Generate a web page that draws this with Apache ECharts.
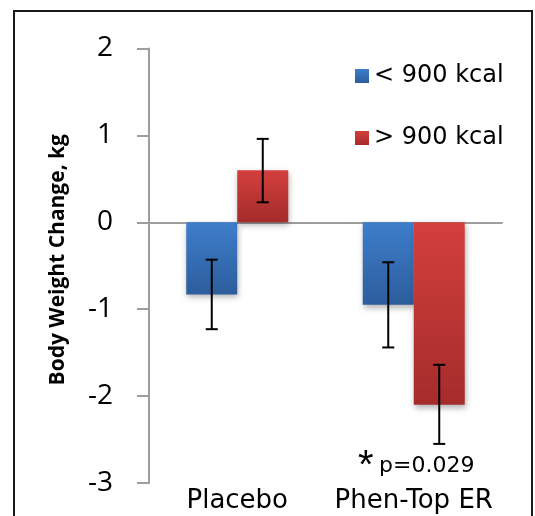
<!DOCTYPE html>
<html>
<head>
<meta charset="utf-8">
<script src="https://cdn.jsdelivr.net/npm/echarts@6/dist/echarts.min.js"></script>
<style>html,body{margin:0;padding:0;background:#fff;}#c{width:535px;height:516px;}</style>
</head>
<body>
<div id="c"></div>
<script>
const categories = ['Placebo', 'Phen-Top ER'];
const seriesNames = ['< 900 kcal', '> 900 kcal'];
const lowKcal = [-0.83, -0.95];
const highKcal = [0.60, -2.10];
const lowKcalErrLow = [-1.23, -1.44];
const lowKcalErrHigh = [-0.43, -0.46];
const highKcalErrLow = [0.23, -2.55];
const highKcalErrHigh = [0.96, -1.64];
const yTicks = [-3, -2, -1, 0, 1, 2];
const annotation = 'p=0.029';

const chart = echarts.init(document.getElementById('c'));

function grad(top, bottom) {
  return new echarts.graphic.LinearGradient(0, 0, 0, 1, [
    { offset: 0, color: top }, { offset: 1, color: bottom }
  ]);
}
const blueFill = grad('#3E7ECB', '#2C5D9C');
const redFill = grad('#D33F3C', '#A42C2B');

function errSeries(lows, highs, offset) {
  return {
    type: 'custom',
    xAxisIndex: 0,
    yAxisIndex: 0,
    z: 5,
    silent: true,
    data: lows.map((l, i) => [i, l, highs[i]]),
    renderItem: function (params, api) {
      const lo = api.coord([api.value(0), api.value(1)]);
      const hi = api.coord([api.value(0), api.value(2)]);
      const x = lo[0] + offset;
      const cap = 6;
      const st = { stroke: '#000', lineWidth: 2 };
      return {
        type: 'group',
        children: [
          { type: 'line', shape: { x1: x, y1: lo[1], x2: x, y2: hi[1] }, style: st },
          { type: 'line', shape: { x1: x - cap, y1: lo[1], x2: x + cap, y2: lo[1] }, style: st },
          { type: 'line', shape: { x1: x - cap, y1: hi[1], x2: x + cap, y2: hi[1] }, style: st }
        ]
      };
    }
  };
}

const option = {
  animation: false,
  backgroundColor: '#fff',
  grid: { left: 149, right: 33, top: 48.5, bottom: 33, containLabel: false },
  legend: {
    orient: 'vertical',
    left: 350,
    top: 59,
    itemWidth: 14,
    itemHeight: 14,
    itemGap: 38,
    icon: 'rect',
    textStyle: { fontFamily: 'DejaVu Sans', fontSize: 24, color: '#000' },
    data: seriesNames
  },
  xAxis: [
    {
      type: 'category',
      data: categories,
      axisLine: { show: true, onZero: true, lineStyle: { color: '#9E9E9E', width: 2 } },
      axisTick: { show: false },
      axisLabel: { show: false }
    },
    {
      type: 'category',
      data: categories,
      position: 'bottom',
      axisLine: { show: false, onZero: false },
      axisTick: { show: false },
      axisLabel: { show: true, interval: 0, hideOverlap: false, margin: 5, fontFamily: 'DejaVu Sans', fontSize: 26, color: '#000' }
    }
  ],
  yAxis: {
    type: 'value',
    min: -3,
    max: 2,
    interval: 1,
    name: 'Body Weight Change, kg',
    nameLocation: 'middle',
    nameGap: 80,
    nameRotate: 90,
    nameTextStyle: { fontFamily: 'Open Sans', fontWeight: 'bold', fontSize: 21, color: '#000', padding: [0, 0, 0, 12] },
    axisLine: { show: true, lineStyle: { color: '#9E9E9E', width: 2 } },
    axisTick: { show: true, inside: false, length: 12, lineStyle: { color: '#9E9E9E', width: 2 } },
    splitLine: { show: false },
    axisLabel: {
      margin: 36,
      fontFamily: 'Open Sans',
      fontSize: 28,
      color: '#000',
      formatter: function (v) { return yTicks.indexOf(v) >= 0 ? String(v) : ''; }
    }
  },
  series: [
    {
      name: seriesNames[0],
      type: 'bar',
      data: lowKcal,
      barWidth: 51,
      barGap: '0%',
      itemStyle: { color: blueFill, shadowBlur: 6, shadowOffsetY: 3, shadowOffsetX: 1, shadowColor: 'rgba(0,0,0,0.3)' }
    },
    {
      name: seriesNames[1],
      type: 'bar',
      data: highKcal,
      barWidth: 51,
      barGap: '0%',
      itemStyle: { color: redFill, shadowBlur: 6, shadowOffsetY: 3, shadowOffsetX: 1, shadowColor: 'rgba(0,0,0,0.3)' }
    },
    errSeries(lowKcalErrLow, lowKcalErrHigh, -25.5),
    errSeries(highKcalErrLow, highKcalErrHigh, 25.5)
  ],
  graphic: [
    { type: 'rect', shape: { x: 14, y: 11, width: 518, height: 530 }, style: { fill: 'none', stroke: '#1a1a1a', lineWidth: 2 }, silent: true, z: 100 },
    { type: 'text', x: 358, y: 447, style: { text: '*', fontFamily: 'Liberation Sans', fontSize: 40, fill: '#000', verticalAlign: 'top' }, z: 100 },
    { type: 'text', x: 379, y: 455, style: { text: annotation, fontFamily: 'DejaVu Sans', fontSize: 22, fill: '#000', verticalAlign: 'top' }, z: 100 }
  ]
};
chart.setOption(option);
</script>
</body>
</html>
